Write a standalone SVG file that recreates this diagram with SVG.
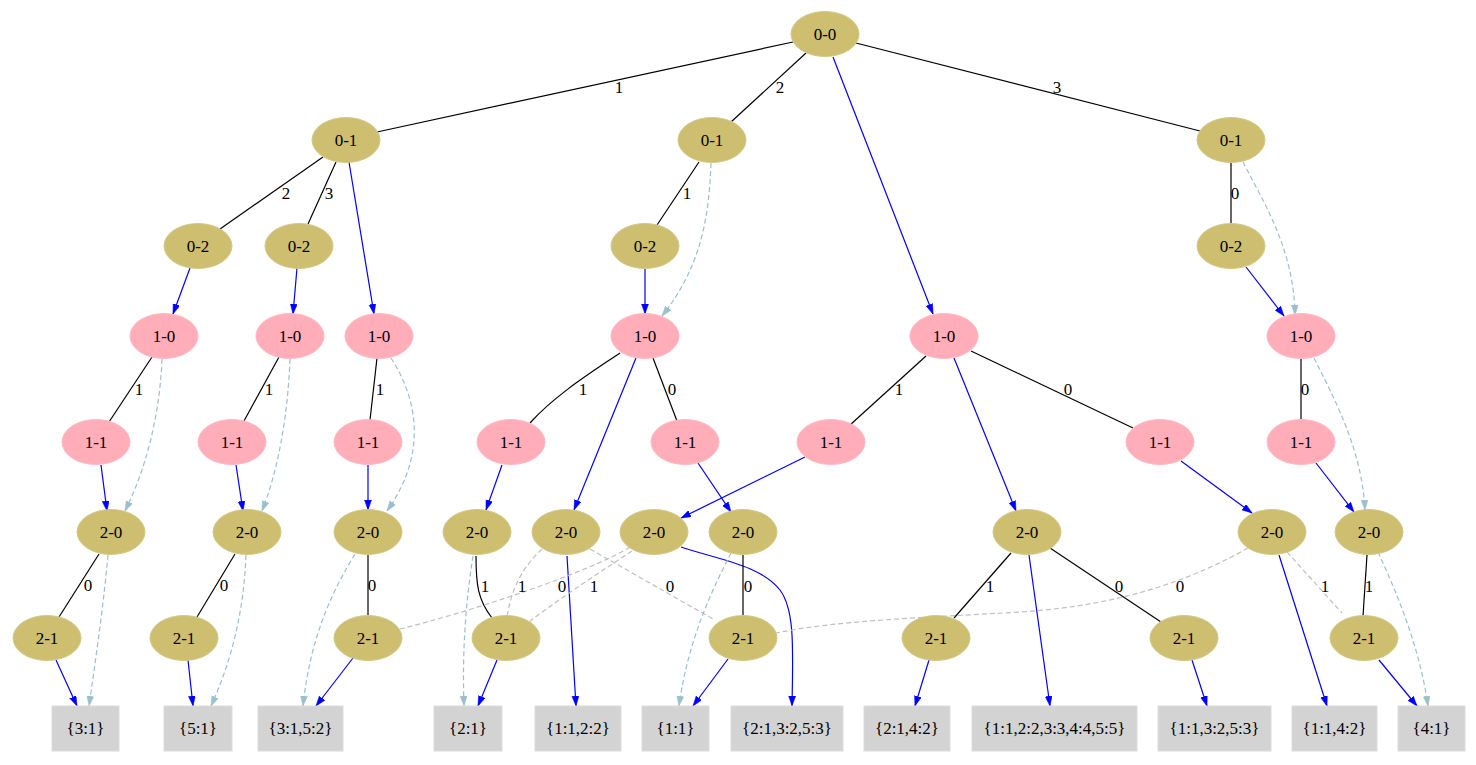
<svg xmlns="http://www.w3.org/2000/svg" width="1476" height="765" viewBox="0 0 1476 765">
<style>
text{font-family:"Liberation Serif","Times New Roman",serif;font-size:17px;fill:#000;text-anchor:middle}
.g ellipse{fill:#CDBE70;stroke:#D4C886;stroke-width:1}
.p ellipse{fill:#FFAEB9;stroke:#FFB8C2;stroke-width:1}
.b rect{fill:#D3D3D3;stroke:#DCDCDC;stroke-width:1}
#edges path{fill:none;stroke-width:1.2}
#edges .k{stroke:#000}
#edges .u{stroke:#0000FF;marker-end:url(#ab)}
#edges .d{stroke:#9AC0CD;stroke-dasharray:5,3;marker-end:url(#ad)}
#edges .s{stroke:#C0C0C0;stroke-dasharray:5,3}
</style>
<defs>
<marker id="ab" markerUnits="userSpaceOnUse" markerWidth="11" markerHeight="8" refX="10" refY="3.5" orient="auto"><path d="M0,0 L10,3.5 L0,7 z" fill="#0000FF" stroke="#0000FF" stroke-width="0.5"/></marker>
<marker id="ad" markerUnits="userSpaceOnUse" markerWidth="11" markerHeight="8" refX="10" refY="3.5" orient="auto"><path d="M0,0 L10,3.5 L0,7 z" fill="#9AC0CD" stroke="#9AC0CD" stroke-width="0.5"/></marker>
</defs>
<rect width="1476" height="765" fill="#fff"/>
<g id="edges">
<path class="k" d="M793,42 L377,132"/>
<path class="k" d="M806,53 L731,122"/>
<path class="k" d="M856,43 L1200,131"/>
<path class="u" d="M833,57 L933,314"/>
<path class="k" d="M323,157 L220,229"/>
<path class="k" d="M336,162 L308,224"/>
<path class="u" d="M349,162 L374,314"/>
<path class="k" d="M699,162 L657,225"/>
<path class="d" d="M711,163 C709,220 700,268 662,316"/>
<path class="k" d="M1231,163 L1231,224"/>
<path class="d" d="M1243,162 C1265,205 1294,250 1295,315"/>
<path class="u" d="M190,268 L173,314"/>
<path class="u" d="M297,268 L293,314"/>
<path class="u" d="M645,269 L645,314"/>
<path class="u" d="M1246,267 L1284,316"/>
<path class="k" d="M152,357 L109,422"/>
<path class="d" d="M162,359 C160,410 148,465 125,511"/>
<path class="k" d="M279,357 L244,421"/>
<path class="d" d="M290,359 C288,410 280,465 262,511"/>
<path class="k" d="M377,358 L370,420"/>
<path class="d" d="M391,358 C415,395 430,450 387,511"/>
<path class="k" d="M620,353 C592,372 555,395 530,423"/>
<path class="u" d="M636,358 L574,510"/>
<path class="k" d="M653,358 L677,421"/>
<path class="k" d="M926,356 L850,425"/>
<path class="u" d="M954,358 L1016,511"/>
<path class="k" d="M971,351 L1133,428"/>
<path class="k" d="M1301,359 L1301,420"/>
<path class="d" d="M1314,358 C1335,400 1362,450 1365,510"/>
<path class="u" d="M101,465 L107,511"/>
<path class="u" d="M236,465 L243,511"/>
<path class="u" d="M368,465 L368,510"/>
<path class="u" d="M502,465 L486,510"/>
<path class="u" d="M698,463 L731,512"/>
<path class="u" d="M805,457 L681,518"/>
<path class="u" d="M1181,461 L1252,513"/>
<path class="u" d="M1316,463 L1354,512"/>
<path class="k" d="M99,554 L59,617"/>
<path class="d" d="M108,555 C104,600 97,650 89,706"/>
<path class="k" d="M235,554 L197,617"/>
<path class="d" d="M246,555 C244,610 232,660 211,706"/>
<path class="k" d="M368,555 L368,616"/>
<path class="d" d="M355,554 C330,595 310,640 303,706"/>
<path class="k" d="M476,556 C476,585 478,600 492,618"/>
<path class="d" d="M473,556 C466,600 462,650 464,706"/>
<path class="s" d="M542,549 C525,565 512,585 507,617"/>
<path class="u" d="M567,556 L576,706"/>
<path class="s" d="M590,549 L713,619"/>
<path class="s" d="M630,547 C590,572 470,612 400,629"/>
<path class="s" d="M632,551 C600,572 565,595 530,621"/>
<path class="u" d="M681,547 C720,560 760,565 780,590 C795,610 793,650 792,706"/>
<path class="k" d="M743,555 L743,616"/>
<path class="d" d="M731,553 C712,590 688,640 679,706"/>
<path class="k" d="M1011,553 L954,618"/>
<path class="u" d="M1029,555 L1050,706"/>
<path class="k" d="M1050,548 L1161,622"/>
<path class="s" d="M1248,548 C1200,575 1130,605 1020,612 C920,618 840,620 776,633"/>
<path class="u" d="M1279,555 L1327,706"/>
<path class="s" d="M1287,552 L1342,613"/>
<path class="k" d="M1367,555 L1363,616"/>
<path class="d" d="M1378,552 C1400,600 1420,650 1428,706"/>
<path class="u" d="M56,660 L77,706"/>
<path class="u" d="M188,660 L193,706"/>
<path class="u" d="M353,658 L316,706"/>
<path class="u" d="M497,660 L478,706"/>
<path class="u" d="M728,659 L693,706"/>
<path class="u" d="M929,660 L915,706"/>
<path class="u" d="M1192,660 L1207,706"/>
<path class="u" d="M1379,660 L1417,706"/>
<text x="619" y="93">1</text>
<text x="780" y="93">2</text>
<text x="1057" y="93">3</text>
<text x="286" y="199">2</text>
<text x="329" y="199">3</text>
<text x="687" y="199">1</text>
<text x="1235" y="199">0</text>
<text x="139" y="395">1</text>
<text x="269" y="395">1</text>
<text x="380" y="395">1</text>
<text x="583" y="395">1</text>
<text x="672" y="395">0</text>
<text x="899" y="395">1</text>
<text x="1068" y="395">0</text>
<text x="1305" y="395">0</text>
<text x="88" y="591">0</text>
<text x="224" y="591">0</text>
<text x="372" y="591">0</text>
<text x="485" y="592">1</text>
<text x="522" y="592">1</text>
<text x="562" y="592">0</text>
<text x="594" y="592">1</text>
<text x="670" y="592">0</text>
<text x="748" y="592">0</text>
<text x="990" y="592">1</text>
<text x="1119" y="592">0</text>
<text x="1180" y="592">0</text>
<text x="1325" y="592">1</text>
<text x="1369" y="592">1</text>
</g>
<g id="n00" class="g"><ellipse cx="825" cy="34" rx="34" ry="22.5"/><text x="825" y="40">0-0</text></g>
<g id="n01a" class="g"><ellipse cx="346" cy="140" rx="34" ry="22.5"/><text x="346" y="146">0-1</text></g>
<g id="n01b" class="g"><ellipse cx="712" cy="140" rx="34" ry="22.5"/><text x="712" y="146">0-1</text></g>
<g id="n01c" class="g"><ellipse cx="1231" cy="140" rx="34" ry="22.5"/><text x="1231" y="146">0-1</text></g>
<g id="n02a" class="g"><ellipse cx="198" cy="246" rx="34" ry="22.5"/><text x="198" y="252">0-2</text></g>
<g id="n02b" class="g"><ellipse cx="299" cy="246" rx="34" ry="22.5"/><text x="299" y="252">0-2</text></g>
<g id="n02c" class="g"><ellipse cx="645" cy="246" rx="34" ry="22.5"/><text x="645" y="252">0-2</text></g>
<g id="n02d" class="g"><ellipse cx="1231" cy="246" rx="34" ry="22.5"/><text x="1231" y="252">0-2</text></g>
<g id="n10a" class="p"><ellipse cx="164" cy="336" rx="34" ry="22.5"/><text x="164" y="342">1-0</text></g>
<g id="n10b" class="p"><ellipse cx="290" cy="336" rx="34" ry="22.5"/><text x="290" y="342">1-0</text></g>
<g id="n10c" class="p"><ellipse cx="379" cy="336" rx="34" ry="22.5"/><text x="379" y="342">1-0</text></g>
<g id="n10d" class="p"><ellipse cx="645" cy="336" rx="34" ry="22.5"/><text x="645" y="342">1-0</text></g>
<g id="n10e" class="p"><ellipse cx="944" cy="336" rx="34" ry="22.5"/><text x="944" y="342">1-0</text></g>
<g id="n10f" class="p"><ellipse cx="1301" cy="336" rx="34" ry="22.5"/><text x="1301" y="342">1-0</text></g>
<g id="n11a" class="p"><ellipse cx="96" cy="442" rx="34" ry="22.5"/><text x="96" y="448">1-1</text></g>
<g id="n11b" class="p"><ellipse cx="232" cy="442" rx="34" ry="22.5"/><text x="232" y="448">1-1</text></g>
<g id="n11c" class="p"><ellipse cx="368" cy="442" rx="34" ry="22.5"/><text x="368" y="448">1-1</text></g>
<g id="n11d" class="p"><ellipse cx="511" cy="442" rx="34" ry="22.5"/><text x="511" y="448">1-1</text></g>
<g id="n11e" class="p"><ellipse cx="685" cy="442" rx="34" ry="22.5"/><text x="685" y="448">1-1</text></g>
<g id="n11f" class="p"><ellipse cx="831" cy="442" rx="34" ry="22.5"/><text x="831" y="448">1-1</text></g>
<g id="n11g" class="p"><ellipse cx="1160" cy="442" rx="34" ry="22.5"/><text x="1160" y="448">1-1</text></g>
<g id="n11h" class="p"><ellipse cx="1301" cy="442" rx="34" ry="22.5"/><text x="1301" y="448">1-1</text></g>
<g id="n20a" class="g"><ellipse cx="111" cy="532" rx="34" ry="22.5"/><text x="111" y="538">2-0</text></g>
<g id="n20b" class="g"><ellipse cx="247" cy="532" rx="34" ry="22.5"/><text x="247" y="538">2-0</text></g>
<g id="n20c" class="g"><ellipse cx="368" cy="532" rx="34" ry="22.5"/><text x="368" y="538">2-0</text></g>
<g id="n20d" class="g"><ellipse cx="477" cy="532" rx="34" ry="22.5"/><text x="477" y="538">2-0</text></g>
<g id="n20e" class="g"><ellipse cx="566" cy="532" rx="34" ry="22.5"/><text x="566" y="538">2-0</text></g>
<g id="n20f" class="g"><ellipse cx="654" cy="532" rx="34" ry="22.5"/><text x="654" y="538">2-0</text></g>
<g id="n20g" class="g"><ellipse cx="743" cy="532" rx="34" ry="22.5"/><text x="743" y="538">2-0</text></g>
<g id="n20h" class="g"><ellipse cx="1027" cy="532" rx="34" ry="22.5"/><text x="1027" y="538">2-0</text></g>
<g id="n20i" class="g"><ellipse cx="1272" cy="532" rx="34" ry="22.5"/><text x="1272" y="538">2-0</text></g>
<g id="n20j" class="g"><ellipse cx="1369" cy="532" rx="34" ry="22.5"/><text x="1369" y="538">2-0</text></g>
<g id="n21a" class="g"><ellipse cx="47" cy="638" rx="34" ry="22.5"/><text x="47" y="644">2-1</text></g>
<g id="n21b" class="g"><ellipse cx="184" cy="638" rx="34" ry="22.5"/><text x="184" y="644">2-1</text></g>
<g id="n21c" class="g"><ellipse cx="368" cy="638" rx="34" ry="22.5"/><text x="368" y="644">2-1</text></g>
<g id="n21d" class="g"><ellipse cx="506" cy="638" rx="34" ry="22.5"/><text x="506" y="644">2-1</text></g>
<g id="n21e" class="g"><ellipse cx="743" cy="638" rx="34" ry="22.5"/><text x="743" y="644">2-1</text></g>
<g id="n21f" class="g"><ellipse cx="936" cy="638" rx="34" ry="22.5"/><text x="936" y="644">2-1</text></g>
<g id="n21g" class="g"><ellipse cx="1184" cy="638" rx="34" ry="22.5"/><text x="1184" y="644">2-1</text></g>
<g id="n21h" class="g"><ellipse cx="1364" cy="638" rx="34" ry="22.5"/><text x="1364" y="644">2-1</text></g>
<g id="b1" class="b"><rect x="52" y="706" width="67" height="45"/><text x="85.5" y="734">{3:1}</text></g>
<g id="b2" class="b"><rect x="164" y="706" width="68" height="45"/><text x="198" y="734">{5:1}</text></g>
<g id="b3" class="b"><rect x="258" y="706" width="85" height="45"/><text x="300.5" y="734">{3:1,5:2}</text></g>
<g id="b4" class="b"><rect x="434" y="706" width="68" height="45"/><text x="468" y="734">{2:1}</text></g>
<g id="b5" class="b"><rect x="535" y="706" width="86" height="45"/><text x="578" y="734">{1:1,2:2}</text></g>
<g id="b6" class="b"><rect x="642" y="706" width="67" height="45"/><text x="675.5" y="734">{1:1}</text></g>
<g id="b7" class="b"><rect x="731" y="706" width="112" height="45"/><text x="787" y="734">{2:1,3:2,5:3}</text></g>
<g id="b8" class="b"><rect x="864" y="706" width="86" height="45"/><text x="907" y="734">{2:1,4:2}</text></g>
<g id="b9" class="b"><rect x="972" y="706" width="165" height="45"/><text x="1054.5" y="734">{1:1,2:2,3:3,4:4,5:5}</text></g>
<g id="b10" class="b"><rect x="1158" y="706" width="113" height="45"/><text x="1214.5" y="734">{1:1,3:2,5:3}</text></g>
<g id="b11" class="b"><rect x="1292" y="706" width="85" height="45"/><text x="1334.5" y="734">{1:1,4:2}</text></g>
<g id="b12" class="b"><rect x="1398" y="706" width="67" height="45"/><text x="1431.5" y="734">{4:1}</text></g>
</svg>
